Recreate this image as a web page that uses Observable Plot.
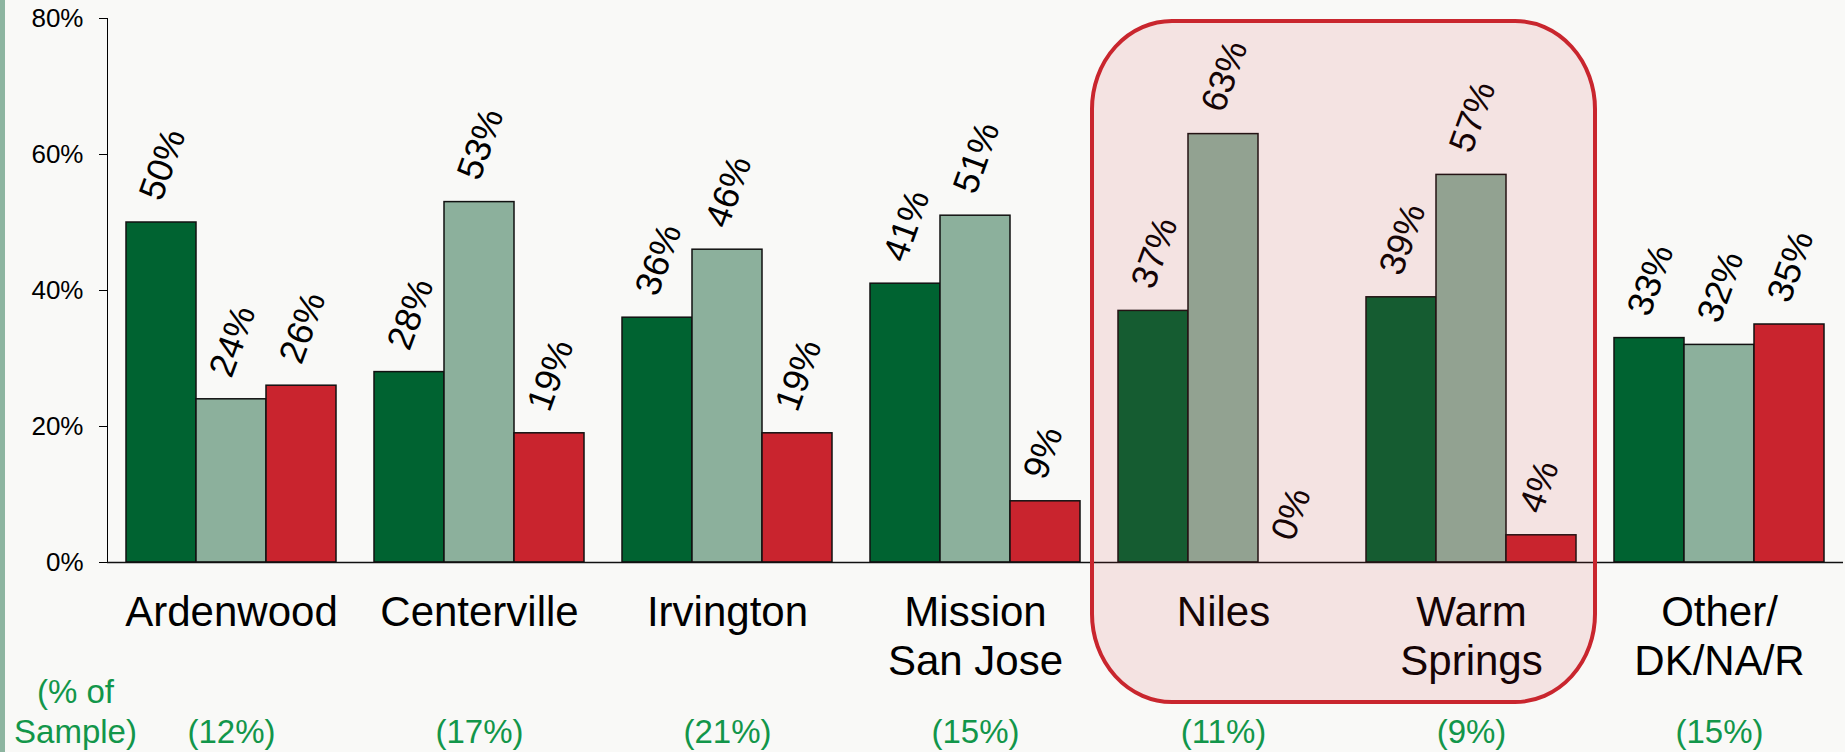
<!DOCTYPE html>
<html>
<head>
<meta charset="utf-8">
<script src="https://cdn.jsdelivr.net/npm/d3@7"></script>
<script src="https://cdn.jsdelivr.net/npm/@observablehq/plot@0.6"></script>
<style>
  html, body { margin: 0; padding: 0; background: #f9f9f7; }
  #wrap { position: relative; width: 1845px; height: 752px; overflow: hidden; }
  #stripe { position: absolute; left: 0; top: 0; width: 5px; height: 752px; background: #8db5a0; }
  #chart svg { display: block; }
</style>
</head>
<body>
<div id="wrap"><div id="chart"></div><div id="stripe"></div></div>
<script>
// ---- data ----
const groups = ["Ardenwood", "Centerville", "Irvington", "Mission San Jose", "Niles", "Warm Springs", "Other/DK/NA/R"];
const groupLabels = ["Ardenwood", "Centerville", "Irvington", "Mission\nSan Jose", "Niles", "Warm\nSprings", "Other/\nDK/NA/R"];
const series = ["Series 1", "Series 2", "Series 3"];
const series1 = [50, 28, 36, 41, 37, 39, 33];
const series2 = [24, 53, 46, 51, 63, 57, 32];
const series3 = [26, 19, 19, 9, 0, 4, 35];
const samplePct = ["(12%)", "(17%)", "(21%)", "(15%)", "(11%)", "(9%)", "(15%)"];
const sampleTitle = "(% of\nSample)";
const yTicks = [0, 20, 40, 60, 80];
const highlighted = ["Niles", "Warm Springs"];
const colors = ["#006331", "#8cb09c", "#c9242e"];

const rows = [];
groups.forEach((g, i) => {
  [series1, series2, series3].forEach((s, j) => rows.push({group: g, series: series[j], value: s[i]}));
});

const font = "'Liberation Sans', Arial, sans-serif";
const green = "#12964a";

const chart = Plot.plot({
  width: 1845,
  height: 752,
  marginLeft: 104,
  marginRight: 0,
  marginTop: 18,
  marginBottom: 190,
  style: {background: "transparent", fontFamily: font, fontSize: "26px", color: "#000"},
  fx: {domain: groups, paddingInner: 0, paddingOuter: 0, axis: null},
  x: {domain: series, paddingInner: 0, paddingOuter: 0.2515, axis: null},
  y: {domain: [0, 80], ticks: yTicks, tickFormat: d => d + "%", tickSize: 8, tickPadding: 16, line: true, label: null},
  color: {domain: series, range: colors},
  marks: [
    Plot.barY(rows, {fx: "group", x: "series", y: "value", fill: "series", stroke: "#111", strokeWidth: 1.5, inset: 0}),
    Plot.ruleY([0], {stroke: "#111", strokeWidth: 1.5}),
    Plot.text(rows, {fx: "group", x: "series", y: "value", text: d => d.value + "%", rotate: -70, textAnchor: "start", dx: -11, dy: -24, fontSize: 36, fill: "#000"}),
    Plot.text(groups, {fx: d => d, text: (d, i) => groupLabels[i], frameAnchor: "bottom", lineAnchor: "top", dy: 29, fontSize: 42, lineHeight: 1.167, fill: "#000"}),
    Plot.text(groups, {fx: d => d, text: (d, i) => samplePct[i], frameAnchor: "bottom", lineAnchor: "top", dy: 157, fontSize: 33, fill: green}),
    Plot.text([groups[0]], {fx: d => d, text: () => sampleTitle, frameAnchor: "bottom-left", textAnchor: "middle", lineAnchor: "top", dx: -32, dy: 112, lineHeight: 1.22, fontSize: 33, fill: green})
  ]
});

document.getElementById("chart").appendChild(chart);

// highlight box around Niles and Warm Springs, positioned from the plot's own scales
const fxs = chart.scale("fx");
const ys = chart.scale("y");
const step = fxs.apply(groups[1]) - fxs.apply(groups[0]);
const bw = fxs.bandwidth != null ? fxs.bandwidth : step;
const hx1 = fxs.apply(highlighted[0]) - 7;
const hx2 = fxs.apply(highlighted[highlighted.length - 1]) + bw;
const hy1 = ys.apply(80) + 3;
const hy2 = 752 - 50;
d3.select(chart).append("rect")
  .attr("x", hx1).attr("y", hy1)
  .attr("width", hx2 - hx1).attr("height", hy2 - hy1)
  .attr("rx", 80).attr("ry", 88)
  .attr("fill", "#cc2530").attr("fill-opacity", 0.1)
  .attr("stroke", "#c9262e").attr("stroke-width", 4);
</script>
</body>
</html>
